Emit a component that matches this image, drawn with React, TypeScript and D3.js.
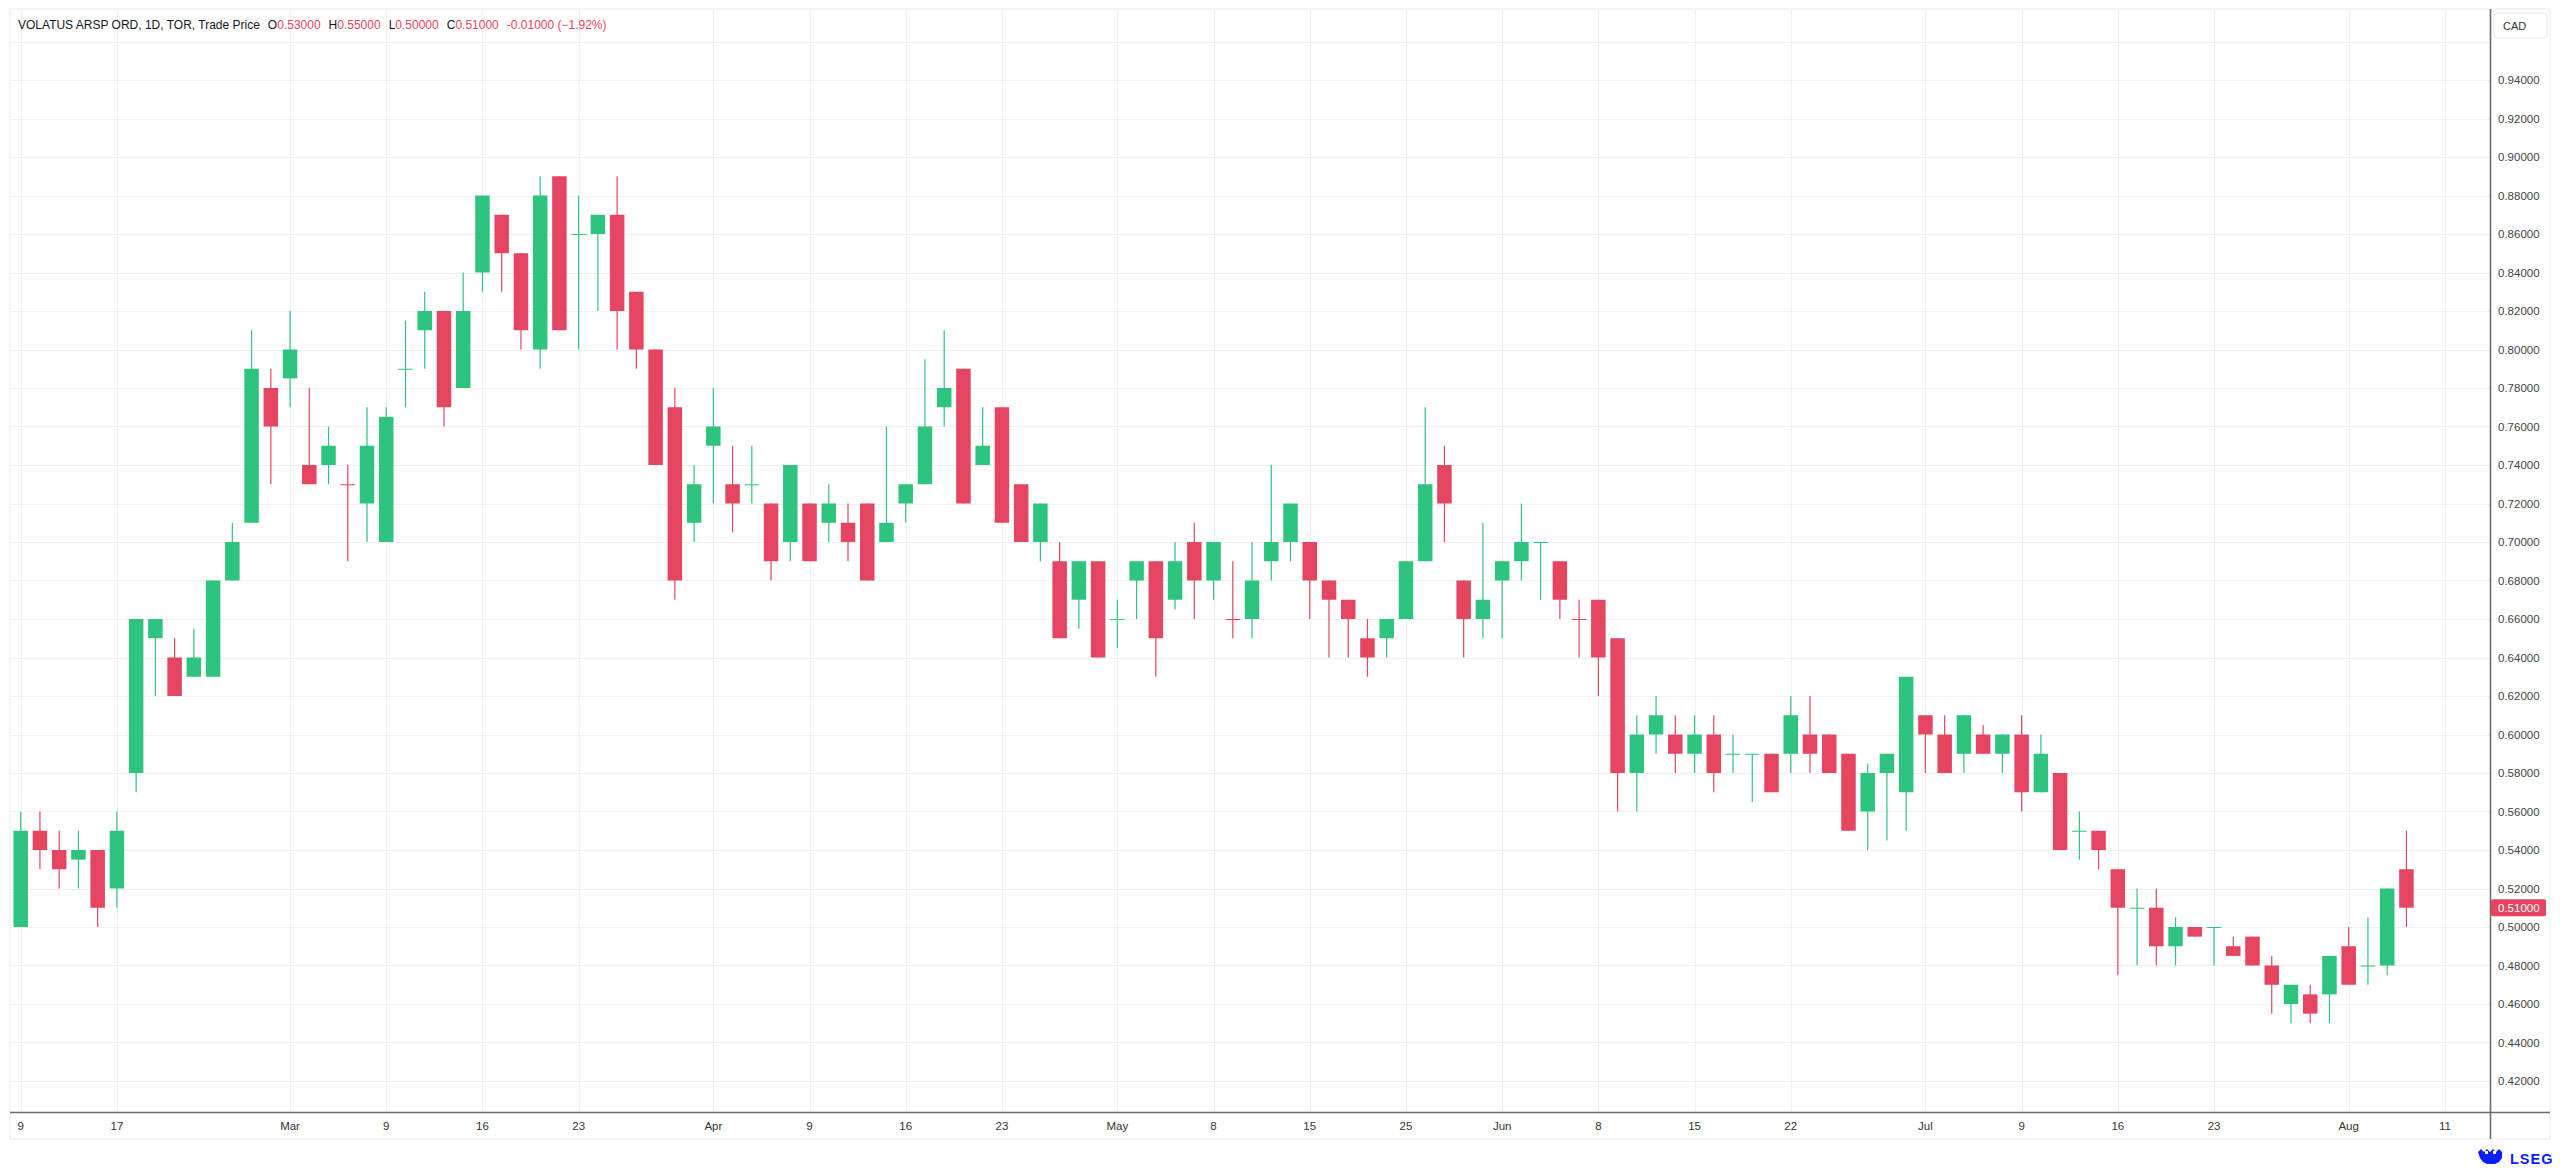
import * as d3 from 'd3'

// trading days (TSX calendar), one candle each
const dates = [
  '2026-02-09', '2026-02-10', '2026-02-11', '2026-02-12', '2026-02-13', '2026-02-17', '2026-02-18', '2026-02-19', '2026-02-20',
  '2026-02-23', '2026-02-24', '2026-02-25', '2026-02-26', '2026-02-27',
  '2026-03-02', '2026-03-03', '2026-03-04', '2026-03-05', '2026-03-06', '2026-03-09', '2026-03-10', '2026-03-11', '2026-03-12',
  '2026-03-13', '2026-03-16', '2026-03-17', '2026-03-18', '2026-03-19', '2026-03-20', '2026-03-23', '2026-03-24', '2026-03-25',
  '2026-03-26', '2026-03-27', '2026-03-30', '2026-03-31',
  '2026-04-01', '2026-04-02', '2026-04-06', '2026-04-07', '2026-04-08', '2026-04-09', '2026-04-10', '2026-04-13', '2026-04-14',
  '2026-04-15', '2026-04-16', '2026-04-17', '2026-04-20', '2026-04-21', '2026-04-22', '2026-04-23', '2026-04-24', '2026-04-27',
  '2026-04-28', '2026-04-29', '2026-04-30',
  '2026-05-01', '2026-05-04', '2026-05-05', '2026-05-06', '2026-05-07', '2026-05-08', '2026-05-11', '2026-05-12', '2026-05-13',
  '2026-05-14', '2026-05-15', '2026-05-19', '2026-05-20', '2026-05-21', '2026-05-22', '2026-05-25', '2026-05-26', '2026-05-27',
  '2026-05-28', '2026-05-29',
  '2026-06-01', '2026-06-02', '2026-06-03', '2026-06-04', '2026-06-05', '2026-06-08', '2026-06-09', '2026-06-10', '2026-06-11',
  '2026-06-12', '2026-06-15', '2026-06-16', '2026-06-17', '2026-06-18', '2026-06-19', '2026-06-22', '2026-06-23', '2026-06-24',
  '2026-06-25', '2026-06-26', '2026-06-29', '2026-06-30',
  '2026-07-02', '2026-07-03', '2026-07-06', '2026-07-07', '2026-07-08', '2026-07-09', '2026-07-10', '2026-07-13', '2026-07-14',
  '2026-07-15', '2026-07-16', '2026-07-17', '2026-07-20', '2026-07-21', '2026-07-22', '2026-07-23', '2026-07-24', '2026-07-27',
  '2026-07-28', '2026-07-29', '2026-07-30', '2026-07-31',
  '2026-08-04', '2026-08-05', '2026-08-06', '2026-08-07',
]
// empty slots to the right of the last candle
const futureDates = ['2026-08-10', '2026-08-11']

const opens = [
  0.50, 0.55, 0.54, 0.535, 0.54, 0.52, 0.58, 0.65, 0.64, 0.63,
  0.63, 0.68, 0.71, 0.78, 0.785, 0.74, 0.74, 0.73, 0.72, 0.70,
  0.79, 0.81, 0.82, 0.78, 0.84, 0.87, 0.85, 0.80, 0.89, 0.86,
  0.86, 0.87, 0.83, 0.80, 0.77, 0.71, 0.75, 0.73, 0.73, 0.72,
  0.70, 0.72, 0.71, 0.71, 0.72, 0.70, 0.72, 0.73, 0.77, 0.79,
  0.74, 0.77, 0.73, 0.70, 0.69, 0.67, 0.69, 0.66, 0.68, 0.69,
  0.67, 0.70, 0.68, 0.66, 0.66, 0.69, 0.70, 0.70, 0.68, 0.67,
  0.65, 0.65, 0.66, 0.69, 0.74, 0.68, 0.66, 0.68, 0.69, 0.70,
  0.69, 0.66, 0.67, 0.65, 0.58, 0.60, 0.60, 0.59, 0.60, 0.59,
  0.59, 0.59, 0.59, 0.60, 0.60, 0.59, 0.56, 0.58, 0.57, 0.61,
  0.60, 0.59, 0.60, 0.59, 0.60, 0.57, 0.58, 0.55, 0.55, 0.53,
  0.51, 0.51, 0.49, 0.50, 0.50, 0.49, 0.495, 0.48, 0.46, 0.465,
  0.465, 0.49, 0.48, 0.48, 0.53,
]
const highs = [
  0.56, 0.56, 0.55, 0.55, 0.54, 0.56, 0.66, 0.66, 0.65, 0.655,
  0.68, 0.71, 0.81, 0.79, 0.82, 0.78, 0.76, 0.74, 0.77, 0.77,
  0.815, 0.83, 0.82, 0.84, 0.88, 0.87, 0.85, 0.89, 0.89, 0.88,
  0.87, 0.89, 0.83, 0.80, 0.78, 0.74, 0.78, 0.75, 0.75, 0.72,
  0.74, 0.72, 0.73, 0.72, 0.72, 0.76, 0.73, 0.795, 0.81, 0.79,
  0.77, 0.77, 0.73, 0.72, 0.70, 0.69, 0.69, 0.67, 0.69, 0.69,
  0.70, 0.71, 0.70, 0.69, 0.70, 0.74, 0.72, 0.70, 0.68, 0.67,
  0.66, 0.66, 0.69, 0.77, 0.75, 0.68, 0.71, 0.69, 0.72, 0.70,
  0.69, 0.67, 0.67, 0.65, 0.61, 0.62, 0.61, 0.61, 0.61, 0.60,
  0.59, 0.59, 0.62, 0.62, 0.60, 0.59, 0.585, 0.59, 0.63, 0.61,
  0.61, 0.61, 0.605, 0.60, 0.61, 0.60, 0.58, 0.56, 0.55, 0.53,
  0.52, 0.52, 0.505, 0.50, 0.50, 0.495, 0.495, 0.485, 0.47, 0.47,
  0.485, 0.50, 0.505, 0.52, 0.55,
]
const lows = [
  0.50, 0.53, 0.52, 0.52, 0.50, 0.51, 0.57, 0.62, 0.62, 0.63,
  0.63, 0.68, 0.71, 0.73, 0.77, 0.73, 0.73, 0.69, 0.70, 0.70,
  0.77, 0.79, 0.76, 0.78, 0.83, 0.83, 0.80, 0.79, 0.81, 0.80,
  0.82, 0.80, 0.79, 0.74, 0.67, 0.70, 0.72, 0.705, 0.72, 0.68,
  0.69, 0.69, 0.70, 0.69, 0.68, 0.70, 0.71, 0.73, 0.76, 0.72,
  0.74, 0.71, 0.70, 0.69, 0.65, 0.655, 0.64, 0.645, 0.66, 0.63,
  0.665, 0.66, 0.67, 0.65, 0.65, 0.68, 0.69, 0.66, 0.64, 0.64,
  0.63, 0.64, 0.66, 0.69, 0.70, 0.64, 0.65, 0.65, 0.68, 0.67,
  0.66, 0.64, 0.62, 0.56, 0.56, 0.59, 0.58, 0.58, 0.57, 0.58,
  0.565, 0.57, 0.58, 0.58, 0.58, 0.55, 0.54, 0.545, 0.55, 0.58,
  0.58, 0.58, 0.59, 0.58, 0.56, 0.57, 0.54, 0.535, 0.53, 0.475,
  0.48, 0.48, 0.48, 0.495, 0.48, 0.485, 0.48, 0.455, 0.45, 0.45,
  0.45, 0.47, 0.47, 0.475, 0.50,
]
const closes = [
  0.55, 0.54, 0.53, 0.54, 0.51, 0.55, 0.66, 0.66, 0.62, 0.64,
  0.68, 0.70, 0.79, 0.76, 0.80, 0.73, 0.75, 0.73, 0.75, 0.765,
  0.79, 0.82, 0.77, 0.82, 0.88, 0.85, 0.81, 0.88, 0.81, 0.86,
  0.87, 0.82, 0.80, 0.74, 0.68, 0.73, 0.76, 0.72, 0.73, 0.69,
  0.74, 0.69, 0.72, 0.70, 0.68, 0.71, 0.73, 0.76, 0.78, 0.72,
  0.75, 0.71, 0.70, 0.72, 0.65, 0.69, 0.64, 0.66, 0.69, 0.65,
  0.69, 0.68, 0.70, 0.66, 0.68, 0.70, 0.72, 0.68, 0.67, 0.66,
  0.64, 0.66, 0.69, 0.73, 0.72, 0.66, 0.67, 0.69, 0.70, 0.70,
  0.67, 0.66, 0.64, 0.58, 0.60, 0.61, 0.59, 0.60, 0.58, 0.59,
  0.59, 0.57, 0.61, 0.59, 0.58, 0.55, 0.58, 0.59, 0.63, 0.60,
  0.58, 0.61, 0.59, 0.60, 0.57, 0.59, 0.54, 0.55, 0.54, 0.51,
  0.51, 0.49, 0.50, 0.495, 0.50, 0.485, 0.48, 0.47, 0.47, 0.455,
  0.485, 0.47, 0.48, 0.52, 0.51,
]

const tickDates = [
  '2026-02-09', '2026-02-17', '2026-03-02', '2026-03-09', '2026-03-16', '2026-03-23', '2026-04-01', '2026-04-09',
  '2026-04-16', '2026-04-23', '2026-05-01', '2026-05-08', '2026-05-15', '2026-05-25', '2026-06-01', '2026-06-08',
  '2026-06-15', '2026-06-22', '2026-07-02', '2026-07-09', '2026-07-16', '2026-07-23', '2026-08-04', '2026-08-11',
]
const tickLabels = [
  '9', '17', 'Mar', '9', '16', '23', 'Apr', '9', '16', '23', 'May', '8', '15', '25', 'Jun', '8', '15', '22',
  'Jul', '9', '16', '23', 'Aug', '11',
]
const priceTicks = [
  0.42, 0.44, 0.46, 0.48, 0.50, 0.52, 0.54, 0.56, 0.58, 0.60, 0.62, 0.64, 0.66, 0.68,
  0.70, 0.72, 0.74, 0.76, 0.78, 0.80, 0.82, 0.84, 0.86, 0.88, 0.90, 0.92, 0.94,
]
const gridPrices = priceTicks.concat([0.96])

const lastPrice = 0.51
const header = {name: 'VOLATUS ARSP ORD, 1D, TOR, Trade Price', o: '0.53000', h: '0.55000', l: '0.50000', c: '0.51000', chg: '-0.01000 (\u22121.92%)'}

const UP = '#2ec480'
const DOWN = '#e44560'
const GRID = '#f0f0f0'
const FONT = '"Liberation Sans", Arial, sans-serif'

export default function App() {
  const width = 2560
  const height = 1170
  const frameLeft = 10
  const frameTop = 9
  const frameRight = 2550
  const frameBottom = 1139
  const axisX = 2490.5
  const axisY = 1112.5

  const allDates = dates.concat(futureDates)
  const x = d3.scaleLinear([0, allDates.length - 1], [20.7, 2444.9])
  const y = d3.scaleLinear([0.42, 0.96], [1081, 41.5])
  const bodyW = 14.5

  const candles = dates.map((d, i) => {
    const o = opens[i], c = closes[i]
    const up = c > o ? true : c < o ? false : (i === 0 || c >= closes[i - 1])
    return {d, i, o, h: highs[i], l: lows[i], c, up}
  })

  return (
    <>
      <style>{'body{margin:0;overflow:hidden;background:#fff}'}</style>
      <svg width={width} height={height} style={{display: 'block', fontFamily: FONT}}>
        <rect x={0} y={0} width={width} height={height} fill="#fff"/>
        {/* frame */}
        <rect x={frameLeft} y={frameTop} width={frameRight - frameLeft} height={frameBottom - frameTop}
              fill="none" stroke="#ebebeb" strokeWidth={1}/>

        {/* grid */}
        {gridPrices.map(p => (
          <line key={'h' + p} x1={frameLeft} x2={axisX} y1={Math.round(y(p)) + 0.5} y2={Math.round(y(p)) + 0.5}
                stroke={GRID} strokeWidth={1.2}/>
        ))}
        {tickDates.map(t => {
          const xi = Math.round(x(allDates.indexOf(t))) + 0.5
          return <line key={'v' + t} x1={xi} x2={xi} y1={frameTop} y2={axisY} stroke={GRID} strokeWidth={1.2}/>
        })}

        {/* header */}
        <text x={18} y={25} dominantBaseline="central" fontSize={12} fill="#131722">
          <tspan>{header.name}</tspan>
          <tspan dx={8}>O</tspan><tspan fill={DOWN}>{header.o}</tspan>
          <tspan dx={8}>H</tspan><tspan fill={DOWN}>{header.h}</tspan>
          <tspan dx={8}>L</tspan><tspan fill={DOWN}>{header.l}</tspan>
          <tspan dx={8}>C</tspan><tspan fill={DOWN}>{header.c}</tspan>
          <tspan dx={8} fill={DOWN}>{header.chg}</tspan>
        </text>

        {/* candles */}
        {candles.map(k => {
          const cx = x(k.i)
          const col = k.up ? UP : DOWN
          const top = y(Math.max(k.o, k.c))
          const bh = Math.max(1, y(Math.min(k.o, k.c)) - top)
          return (
            <g key={k.d}>
              <line x1={cx} x2={cx} y1={y(k.h)} y2={y(k.l)} stroke={col} strokeWidth={1.2}/>
              <rect x={cx - bodyW / 2} y={top} width={bodyW} height={bh} fill={col}/>
            </g>
          )
        })}

        {/* axes */}
        <line x1={axisX} x2={axisX} y1={frameTop} y2={frameBottom} stroke="#6b6b6b" strokeWidth={1.6}/>
        <line x1={frameLeft} x2={frameRight} y1={axisY} y2={axisY} stroke="#6b6b6b" strokeWidth={1.6}/>

        {priceTicks.map(p => (
          <text key={'p' + p} x={2498} y={y(p)} dominantBaseline="central" fontSize={11.5} fill="#444">
            {p.toFixed(5)}
          </text>
        ))}
        {tickDates.map((t, i) => (
          <text key={'t' + t} x={x(allDates.indexOf(t))} y={1126} textAnchor="middle" dominantBaseline="central"
                fontSize={11.5} fill="#333">
            {tickLabels[i]}
          </text>
        ))}

        {/* currency box */}
        <rect x={2494} y={13} width={53} height={25} rx={3} fill="#fff" stroke="#e8e8e8"/>
        <text x={2503} y={25.5} dominantBaseline="central" fontSize={11} fill="#333">CAD</text>

        {/* last price tag */}
        <rect x={2491} y={y(lastPrice) - 8.5} width={55} height={17} rx={2} fill={DOWN}/>
        <text x={2498} y={y(lastPrice)} dominantBaseline="central" fontSize={11.5} fill="#fff">
          {lastPrice.toFixed(5)}
        </text>

        {/* LSEG mark */}
        <g fill="#0a1eff">
          <path d="M2478 1152 l3 -3 l3 3 l3 -3 l3 3 l3 -3 l3 3 l3 -3 l3 3 v6 l-3 4 l-4 2 h-8 l-4 -2 l-3 -4 z"/>
          <rect x={2485} y={1151} width={3} height={3} fill="#fff"/>
          <rect x={2493} y={1151} width={3} height={3} fill="#fff"/>
        </g>
        <text x={2510} y={1159} dominantBaseline="central" fontSize={14.5} fontWeight="bold"
              fill="#0a1eff" letterSpacing={1}>LSEG</text>
      </svg>
    </>
  )
}
